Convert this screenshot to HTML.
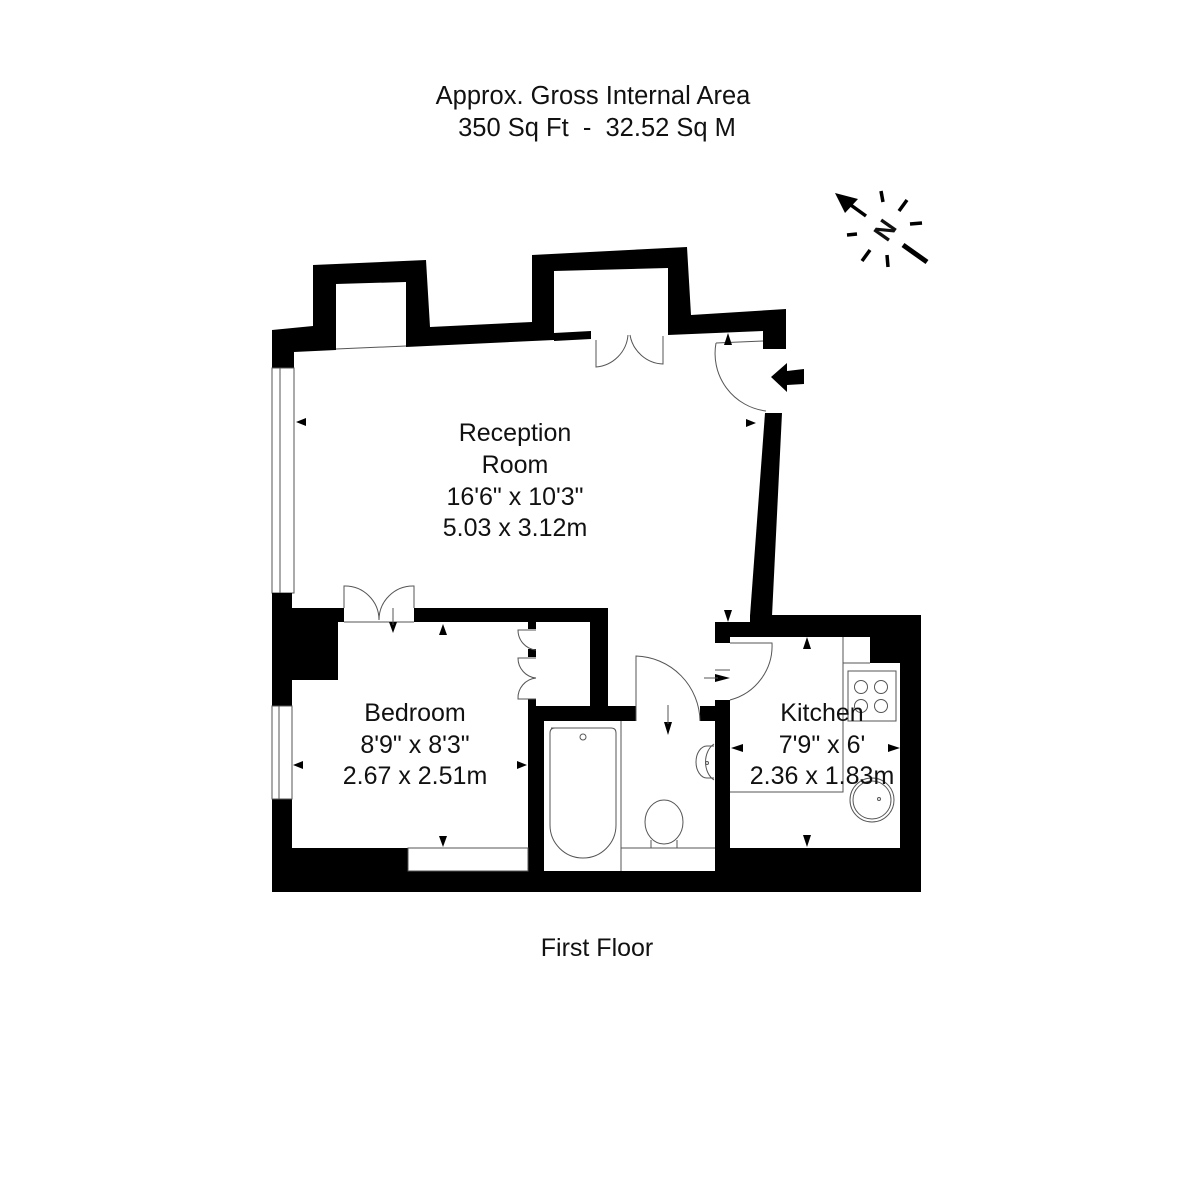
<!DOCTYPE html>
<html><head><meta charset="utf-8"><style>
html,body{margin:0;padding:0;background:#fff;}
svg{display:block;}
text{font-family:"Liberation Sans",sans-serif;fill:#111;}
</style></head><body>
<svg width="1200" height="1200" viewBox="0 0 1200 1200" xmlns="http://www.w3.org/2000/svg">
<rect width="1200" height="1200" fill="#fff"/>
<text x="593" y="104" font-size="25.5" text-anchor="middle">Approx. Gross Internal Area</text>
<text x="597" y="136" font-size="25.5" text-anchor="middle" xml:space="preserve">350 Sq Ft  -  32.52 Sq M</text>

<g stroke="#000" stroke-width="3.5" fill="none">
<line x1="866" y1="216" x2="848" y2="203"/>
<line x1="881" y1="191" x2="883" y2="202"/>
<line x1="907" y1="200" x2="899" y2="211"/>
<line x1="910" y1="224" x2="922" y2="223"/>
<line x1="903" y1="245" x2="927" y2="262" stroke-width="5"/>
<line x1="887" y1="255" x2="888" y2="267"/>
<line x1="870" y1="250" x2="862" y2="261"/>
<line x1="847" y1="235" x2="857" y2="234"/>
</g>
<polygon points="835,193 858,199 845,213" fill="#000"/>
<text x="885" y="239" font-size="26" font-weight="bold" text-anchor="middle" transform="rotate(-55 885 230)">N</text>

<polygon fill="#000" points="272,330 313,326 313,265 426,260 430,327 532,322 532,255 687,247 691,315 786,309 786,349 763,349 763,331 668,335 668,268 554,271 554,340 406,347 406,282 336,284 336,350 294,352 294,368 272,368"/>
<polygon fill="#000" points="554,333 591,331 591,339 554,341"/>
<line x1="336" y1="349" x2="406" y2="346" stroke="#555" stroke-width="1"/>
<g stroke="#555" stroke-width="1" fill="none">
<path d="M596,340 L596,367 A35,35 0 0 0 628,335"/>
<path d="M663,336 L663,364 A35,35 0 0 1 630,335"/>
</g>
<g stroke="#555" stroke-width="1" fill="none">
<path d="M716,343 L763,341 M716,343 A58,58 0 0 0 766,411"/>
</g>
<polygon points="771,377 787,363 787,371 804,369 804,384 787,385 787,392" fill="#000"/>

<rect x="272" y="368" width="22" height="225" fill="#fff" stroke="#555" stroke-width="1"/>
<line x1="280" y1="368" x2="280" y2="593" stroke="#555" stroke-width="1"/>

<polygon fill="#000" points="765,413 782,413 772,616 750,616"/>

<polygon fill="#000" points="272,593 292,593 292,608 608,608 608,706 715,706 715,622 750,622 750,615 921,615 921,892 272,892"/>

<polygon fill="#fff" points="338,622 528,622 528,848 292,848 292,680 338,680"/>
<rect x="344" y="607" width="70" height="16" fill="#fff"/>
<g stroke="#555" stroke-width="1" fill="none">
<path d="M344,608 L344,586 A34,34 0 0 1 379,620"/>
<path d="M414,608 L414,586 A34,34 0 0 0 379,620"/>
<line x1="344" y1="622" x2="414" y2="622"/>
</g>
<rect x="535" y="622" width="55" height="84" fill="#fff"/>
<rect x="528" y="622" width="8" height="85" fill="#fff"/>
<g fill="#000">
<rect x="528" y="622" width="8" height="7"/>
<rect x="528" y="649" width="8" height="8"/>
<rect x="528" y="699" width="8" height="8"/>
</g>
<g stroke="#555" stroke-width="1" fill="none">
<path d="M536,630 L518,630 A20,20 0 0 0 536,650"/>
<path d="M536,658 L518,658 A20,20 0 0 0 536,678 A20,20 0 0 0 518,699 L536,699"/>
</g>
<rect x="272" y="706" width="20" height="93" fill="#fff" stroke="#555" stroke-width="1"/>
<line x1="279" y1="706" x2="279" y2="799" stroke="#555" stroke-width="1"/>
<rect x="408" y="848" width="120" height="23" fill="#fff" stroke="#555" stroke-width="1"/>

<rect x="544" y="721" width="171" height="150" fill="#fff"/>
<rect x="636" y="705" width="64" height="17" fill="#fff"/>
<g stroke="#555" stroke-width="1" fill="none">
<path d="M636,721 L636,656 A66,66 0 0 1 700,721"/>
<line x1="621" y1="721" x2="621" y2="871"/>
<path d="M551,728 L611,728 Q616,728 616,733 L616,825 A33,33 0 0 1 550,825 L550,733 Q550,728 555,728"/>
<circle cx="583" cy="737" r="3"/>
<line x1="621" y1="848" x2="715" y2="848"/>
<ellipse cx="664" cy="822" rx="19" ry="22"/>
<path d="M651,840 L651,848 M677,840 L677,848"/>
<path d="M714,744 A15,20 0 0 0 714,780 M714,746 L707,746 A11,16 0 0 0 707,778 L714,778"/>
<circle cx="707" cy="763" r="1.5"/>
</g>

<polygon fill="#fff" points="730,637 870,637 870,663 900,663 900,848 730,848"/>
<rect x="714" y="643" width="17" height="57" fill="#fff"/>
<g stroke="#555" stroke-width="1" fill="none">
<path d="M730,643 L772,643 A56,56 0 0 1 730,700"/>
<line x1="715" y1="670" x2="730" y2="670"/>
<path d="M730,792 L843,792 L843,637"/>
<line x1="843" y1="663" x2="870" y2="663"/>
<rect x="848" y="671" width="48" height="50"/>
<circle cx="861" cy="687" r="6.5"/><circle cx="881" cy="687" r="6.5"/>
<circle cx="861" cy="706" r="6.5"/><circle cx="881" cy="706" r="6.5"/>
<circle cx="872" cy="800" r="22"/><circle cx="872" cy="800" r="19"/>
<circle cx="879" cy="799" r="1.5"/>
</g>

<g fill="#000">
<polygon points="296,422 306,418 306,426"/>
<polygon points="756,423 746,419 746,427"/>
<polygon points="728,333 724,345 732,345"/>
<polygon points="728,622 724,610 732,610"/>
<polygon points="293,765 303,761 303,769"/>
<polygon points="527,765 517,761 517,769"/>
<polygon points="393,633 389,622 397,622"/>
<polygon points="443,624 439,635 447,635"/>
<polygon points="443,847 439,836 447,836"/>
<polygon points="668,735 664,722 672,722"/>
<polygon points="716,678 731,674 731,682" transform="rotate(180 723 678)"/>
<polygon points="731,748 743,744 743,752"/>
<polygon points="900,748 888,744 888,752"/>
<polygon points="807,637 803,649 811,649"/>
<polygon points="807,847 803,835 811,835"/>
</g>
<g stroke="#555" stroke-width="1">
<line x1="393" y1="608" x2="393" y2="625"/>
<line x1="668" y1="705" x2="668" y2="724"/>
<line x1="704" y1="678" x2="718" y2="678"/>
</g>

<g font-size="25" text-anchor="middle">
<text x="515" y="441">Reception</text>
<text x="515" y="473">Room</text>
<text x="515" y="505">16'6" x 10'3"</text>
<text x="515" y="536">5.03 x 3.12m</text>
<text x="415" y="721">Bedroom</text>
<text x="415" y="753">8'9" x 8'3"</text>
<text x="415" y="784">2.67 x 2.51m</text>
<text x="822" y="721">Kitchen</text>
<text x="822" y="753">7'9" x 6'</text>
<text x="822" y="784">2.36 x 1.83m</text>
<text x="597" y="956">First Floor</text>
</g>
</svg>
</body></html>
